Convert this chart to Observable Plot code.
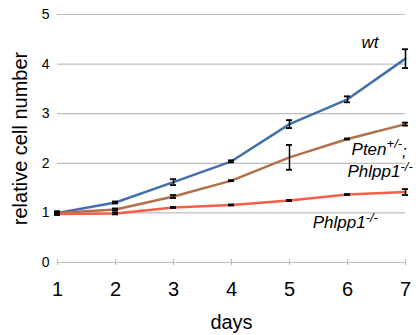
<!DOCTYPE html>
<html>
<head>
<meta charset="utf-8">
<script src="https://cdn.jsdelivr.net/npm/d3@7"></script>
<script src="https://cdn.jsdelivr.net/npm/@observablehq/plot@0.6"></script>
<style>
  html, body { margin: 0; padding: 0; background: #fff; }
  #chart { width: 416px; height: 335px; }
</style>
</head>
<body>
<div id="chart"></div>
<script>
const days = [1, 2, 3, 4, 5, 6, 7];
const yTicks = [0, 1, 2, 3, 4, 5];
const seriesNames = ["wt", "Pten", "Phlpp1"];
const seriesColors = ["#4270ab", "#b0704c", "#f55e47"];
const wtMean = [1.0, 1.21, 1.62, 2.04, 2.79, 3.29, 4.11];
const wtErr = [0.03, 0.02, 0.06, 0.02, 0.08, 0.06, 0.19];
const ptenMean = [1.0, 1.07, 1.33, 1.65, 2.12, 2.49, 2.79];
const ptenErr = [0.03, 0.02, 0.03, 0.01, 0.25, 0.01, 0.03];
const phlppMean = [0.98, 0.99, 1.11, 1.16, 1.25, 1.37, 1.42];
const phlppErr = [0.02, 0.02, 0.01, 0.01, 0.01, 0.01, 0.06];
const labelTexts = ["wt", "Pten^{+/-};", "Phlpp1^{-/-}", "Phlpp1^{-/-}"];
const labelDays = [6.24, 6.07, 6.0, 5.4];
const labelVals = [4.33, 2.17, 1.72, 0.69];

const means = [wtMean, ptenMean, phlppMean];
const errs = [wtErr, ptenErr, phlppErr];
const data = [];
seriesNames.forEach((s, k) => days.forEach((d, i) => data.push({
  series: s, day: d, mean: means[k][i], lo: means[k][i] - errs[k][i], hi: means[k][i] + errs[k][i]
})));
const labels = labelTexts.map((t, i) => ({text: t, day: labelDays[i], val: labelVals[i]}));

const font = "'Liberation Sans', Arial, Helvetica, sans-serif";

const chart = Plot.plot({
  width: 416,
  height: 335,
  marginLeft: 57,
  marginRight: 11,
  marginTop: 14,
  marginBottom: 73,
  style: {fontFamily: font, color: "#000", background: "#fff"},
  x: {domain: [1, 7]},
  y: {domain: [0, 5]},
  color: {domain: seriesNames, range: seriesColors},
  marks: [
    Plot.ruleY(yTicks, {stroke: "#bdbdbd", strokeWidth: 1.2}),
    Plot.ruleX(days, {x: d => d, y1: 0, y2: 0, insetTop: -3, insetBottom: -3, stroke: "#bdbdbd", strokeWidth: 1.2}),
    Plot.axisY({ticks: yTicks, tickFormat: "d", tickSize: 0, tickPadding: 8, fontSize: 14,
      label: "relative cell number", labelAnchor: "center", labelOffset: 45, labelArrow: "none"}),
    Plot.axisX({ticks: days, tickFormat: "d", tickSize: 0, tickPadding: 19, fontSize: 20,
      label: "days", labelAnchor: "center", labelOffset: 66, labelArrow: "none"}),
    Plot.line(data, {x: "day", y: "mean", stroke: "series", z: "series", strokeWidth: 2.5}),
    Plot.ruleX(data, {x: "day", y1: "lo", y2: "hi", stroke: "#000", strokeWidth: 1.5}),
    Plot.ruleY(data, {y: "hi", x1: "day", x2: "day", insetLeft: -3, insetRight: -3, stroke: "#000", strokeWidth: 1.8}),
    Plot.ruleY(data, {y: "lo", x1: "day", x2: "day", insetLeft: -3, insetRight: -3, stroke: "#000", strokeWidth: 1.8}),
    Plot.text(labels, {x: "day", y: "val", text: "text", textAnchor: "start", lineAnchor: "bottom",
      fontSize: 17, fontStyle: "italic", fill: "#000"})
  ]
});

d3.select(chart).selectAll("g[aria-label='y-axis label'] text, g[aria-label='x-axis label'] text")
  .attr("font-size", 20);
d3.select(chart).selectAll("g[aria-label='text'] text").each(function() {
  const el = d3.select(this);
  const raw = el.text();
  const m = raw.match(/^([^\^]*)\^\{([^}]*)\}(.*)$/);
  if (!m) return;
  el.text(null);
  el.append("tspan").text(m[1]);
  el.append("tspan").attr("font-size", 13).attr("dy", "-0.5em").text(m[2]);
  if (m[3]) el.append("tspan").attr("dy", "0.5em").text(m[3]);
});

document.getElementById("chart").appendChild(chart);
</script>
</body>
</html>
